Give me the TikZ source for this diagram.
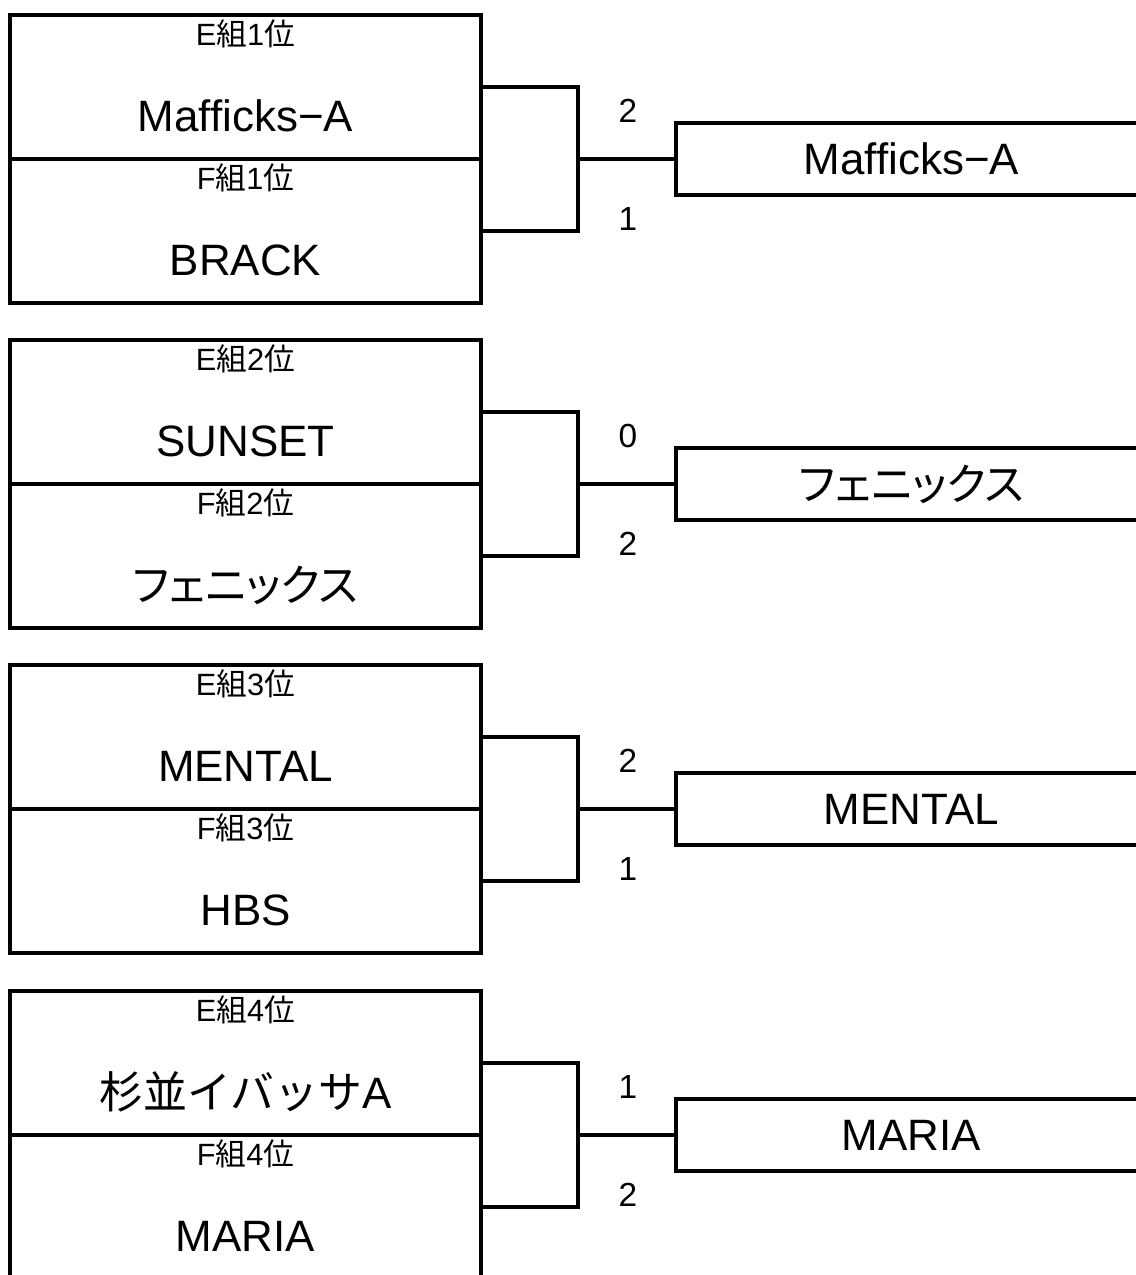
\documentclass[tikz,border=0pt]{standalone}
\usepackage{fontspec}
\setmainfont{Liberation Sans}
\newfontfamily\cjk{Noto Sans CJK JP}
\newfontfamily\cjkp[RawFeature=+palt]{Noto Sans CJK JP}
\usetikzlibrary{calc}
\usetikzlibrary{positioning}
\tikzstyle{half}=[%
  draw,
  line width=1.8pt,
  minimum height=2.88cm,
  minimum width=9.42cm,
  outer sep=0pt
]
\tikzstyle{winbox}=[%
  draw,
  line width=1.8pt,
  minimum height=1.44cm,
  minimum width=9.42cm,
  outer sep=0pt,
  font=\fontsize{25}{25}\selectfont
]
\tikzstyle{rank}=[inner sep=0pt, font=\fontsize{17.5}{17.5}\selectfont]
\tikzstyle{team}=[inner sep=0pt, font=\fontsize{25}{25}\selectfont]
\tikzstyle{score}=[inner sep=0pt, font=\fontsize{19}{19}\selectfont]

\begin{document}
\begin{tikzpicture}[x=0.02cm, y=-0.02cm]
    \useasboundingbox (0, 0) rectangle (1136, 1275);
    \foreach \i/\yy/\eteam/\fteam/\es/\fs/\win in {%
      1/15/Mafficks−A/BRACK/2/1/Mafficks−A,
      2/340/SUNSET/{\cjkp フェニックス}/0/2/{\cjkp フェニックス},
      3/665/MENTAL/HBS/2/1/MENTAL,
      4/991/{{\cjk 杉並イバッサ}A}/MARIA/1/2/MARIA} {%
      \node[half] (e\i) at (245.5, \yy+72) {};
      \node[half, below=0pt of e\i] (f\i) {};
      \node[rank] (er\i) at ($(e\i.north)+(0, 19)$) {E{\cjk 組}\i{\cjk 位}};
      \node[rank] (fr\i) at ($(f\i.north)+(0, 19)$) {F{\cjk 組}\i{\cjk 位}};
      \node[team] (et\i) at ($(e\i.north)+(0, 101)$) {\eteam};
      \node[team] (ft\i) at ($(f\i.north)+(0, 101)$) {\fteam};
      \coordinate (j\i) at (578, \yy+144);
      \node[winbox, right=1.96cm of j\i] (w\i) {\win};
      \draw[line width=1.8pt] (e\i.east) -| (j\i) |- (f\i.east);
      \draw[line width=1.8pt] (j\i) -- (w\i);
      \node[score] (es\i) at ($(j\i)+(50, -48)$) {\es};
      \node[score] (fs\i) at ($(j\i)+(50, 60)$) {\fs};
    }
\end{tikzpicture}
\end{document}
